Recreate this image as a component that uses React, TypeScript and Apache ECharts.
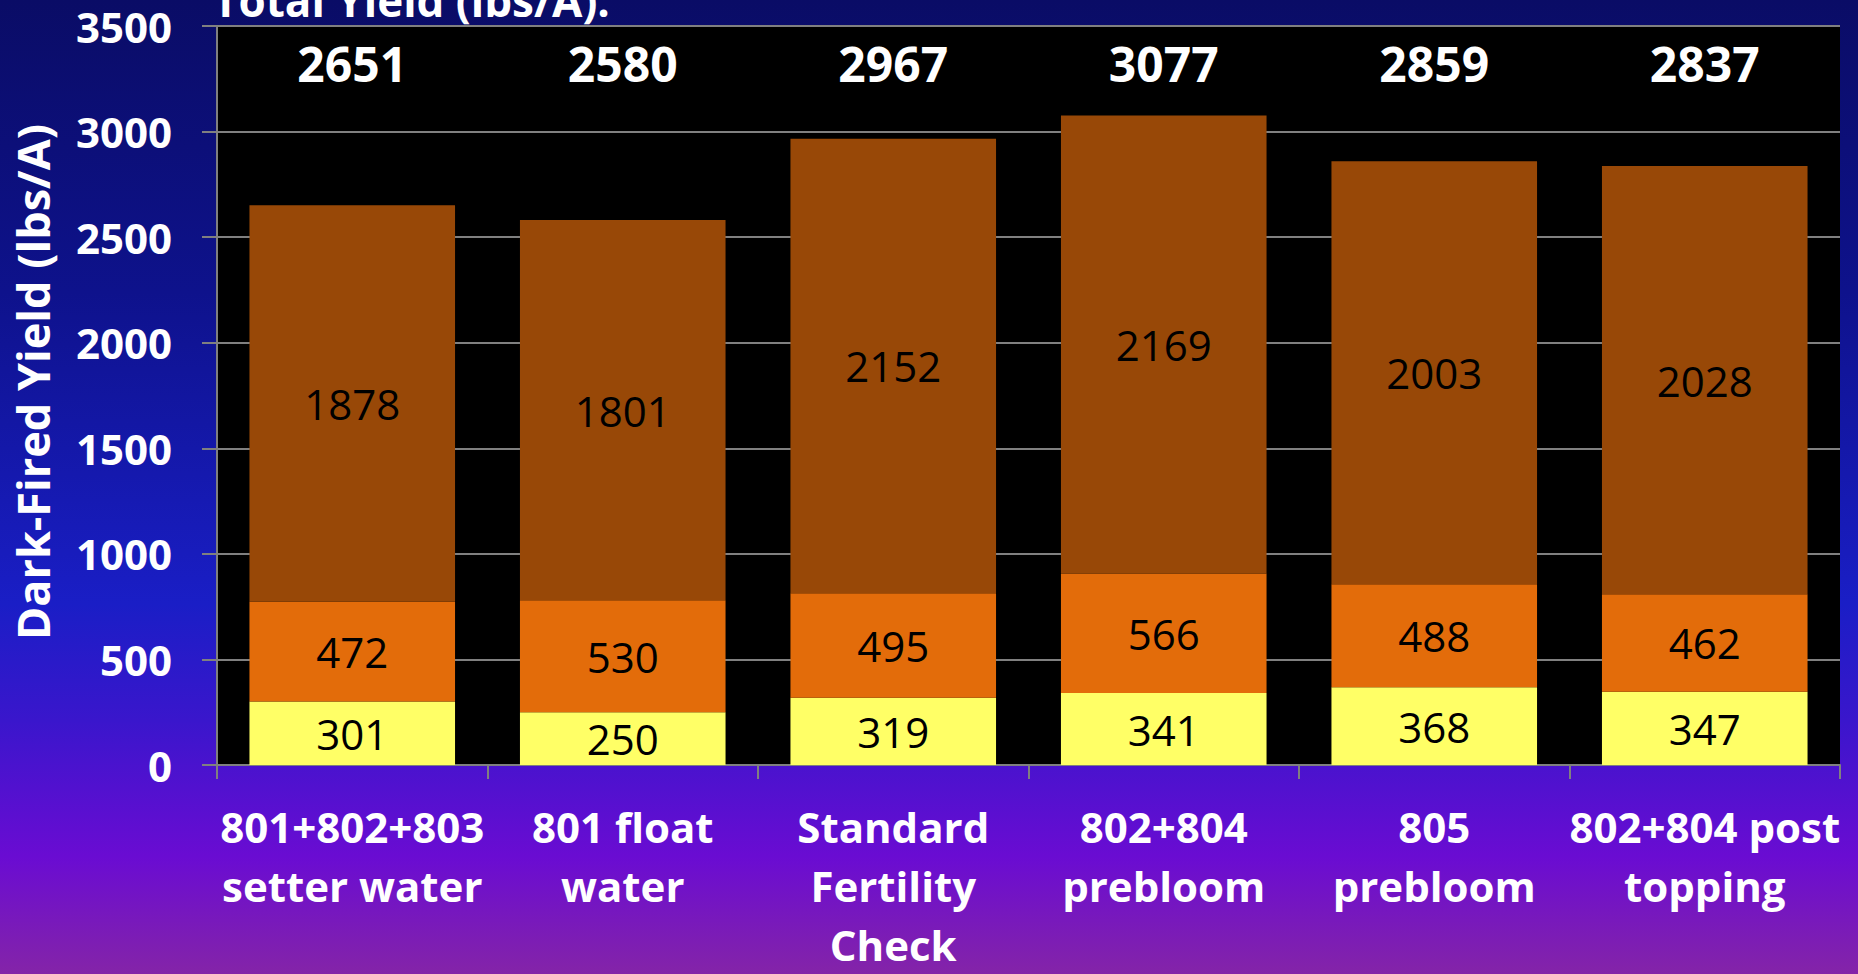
import React, { useEffect, useRef } from "react";
import * as echarts from "echarts";

const categories = [
  "801+802+803\nsetter water",
  "801 float\nwater",
  "Standard\nFertility\nCheck",
  "802+804\nprebloom",
  "805\nprebloom",
  "802+804 post\ntopping",
];
const yellowValues = [301, 250, 319, 341, 368, 347];
const orangeValues = [472, 530, 495, 566, 488, 462];
const brownValues = [1878, 1801, 2152, 2169, 2003, 2028];
const totals = [2651, 2580, 2967, 3077, 2859, 2837];
const yMin = 0;
const yMax = 3500;
const yInterval = 500;
const titleText = "Total Yield (lbs/A):";
const yAxisTitle = "Dark-Fired Yield (lbs/A)";

const FONT = "'Open Sans', 'Noto Sans', sans-serif";
const GREY = "#808080";

export default function App() {
  const ref = useRef<HTMLDivElement>(null);
  useEffect(() => {
    if (!ref.current) return;
    const chart = echarts.init(ref.current, undefined, { renderer: "svg" });
    const segLabel = {
      show: true,
      position: "inside",
      color: "#000",
      fontSize: 42,
      fontFamily: FONT,
    };
    chart.setOption({
      animation: false,
      backgroundColor: new echarts.graphic.LinearGradient(0, 0, 0, 1, [
        { offset: 0, color: "#0a0c66" },
        { offset: 0.3, color: "#0e128c" },
        { offset: 0.62, color: "#1a1ec6" },
        { offset: 0.74, color: "#3a16cc" },
        { offset: 0.88, color: "#6a0cd2" },
        { offset: 1, color: "#8424a8" },
      ]),
      textStyle: { fontFamily: FONT },
      grid: {
        left: 217,
        width: 1623,
        top: 26,
        height: 752,
        show: true,
        backgroundColor: "#000",
        borderWidth: 0,
      },
      graphic: [
        {
          type: "text",
          x: 213,
          y: 22,
          style: {
            text: titleText,
            fill: "#fff",
            fontSize: 44,
            fontWeight: "bold",
            fontFamily: FONT,
            verticalAlign: "bottom",
            align: "left",
          },
        },
        {
          type: "text",
          x: 32,
          y: 382,
          rotation: Math.PI / 2,
          style: {
            text: yAxisTitle,
            fill: "#fff",
            fontSize: 45,
            fontWeight: "bold",
            fontFamily: FONT,
            align: "center",
            verticalAlign: "middle",
          },
        },
      ],
      xAxis: [
        {
          type: "category",
          data: categories,
          position: "bottom",
          axisLine: { show: true, lineStyle: { color: GREY, width: 2 } },
          axisTick: { show: true, length: 14, lineStyle: { color: GREY, width: 2 } },
          axisLabel: {
            interval: 0,
            color: "#fff",
            fontWeight: "bold",
            fontSize: 42,
            lineHeight: 59,
            margin: 32,
            fontFamily: FONT,
          },
        },
        {
          type: "category",
          data: totals.map(String),
          position: "top",
          axisLine: { show: false },
          axisTick: { show: false },
          axisLabel: {
            inside: true,
            interval: 0,
            margin: 37,
            verticalAlign: "middle",
            color: "#fff",
            fontWeight: "bold",
            fontSize: 48,
            fontFamily: FONT,
          },
        },
      ],
      yAxis: {
        type: "value",
        min: yMin,
        max: yMax,
        interval: yInterval,
        axisLine: { show: true, lineStyle: { color: GREY, width: 2 } },
        axisTick: { show: true, length: 15, lineStyle: { color: GREY, width: 2 } },
        splitLine: { show: true, lineStyle: { color: GREY, width: 2 } },
        axisLabel: {
          color: "#fff",
          fontWeight: "bold",
          fontSize: 42,
          margin: 45,
          fontFamily: FONT,
          formatter: (v: number) => String(v),
        },
      },
      series: [
        {
          name: "Lugs",
          type: "bar",
          stack: "total",
          barWidth: "76%",
          data: yellowValues,
          itemStyle: { color: "#ffff66" },
          label: segLabel,
        },
        {
          name: "Seconds",
          type: "bar",
          stack: "total",
          data: orangeValues,
          itemStyle: { color: "#e36c0a" },
          label: segLabel,
        },
        {
          name: "Leaf",
          type: "bar",
          stack: "total",
          data: brownValues,
          itemStyle: { color: "#984807" },
          label: segLabel,
        },
      ],
    });
    return () => chart.dispose();
  }, []);
  return (
    <div
      ref={ref}
      style={{ position: "fixed", left: 0, top: 0, width: 1858, height: 974 }}
    />
  );
}
